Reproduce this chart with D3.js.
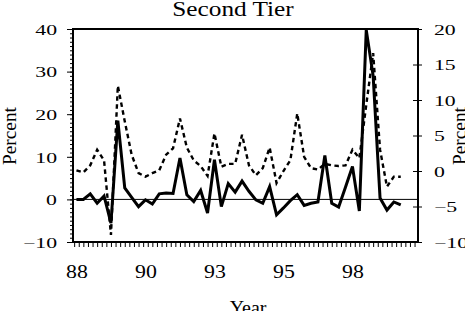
<!DOCTYPE html>
<html>
<head>
<meta charset="utf-8">
<script src="https://cdn.jsdelivr.net/npm/d3@7"></script>
<style>
  body { margin: 0; background: #fff; }
  svg text { font-family: "Liberation Serif", "Times New Roman", serif; fill: #000; }
</style>
</head>
<body>
<svg id="chart" width="465" height="311"></svg>
<script>
// quarterly observations, 1988Q1 onwards
const title = 'Second Tier';
const yearLabels = ['88', '90', '93', '95', '98'];
const yearLabelAt = [0, 10, 20, 30, 40];
const leftTicks = [40, 30, 20, 10, 0, -10];
const rightTicks = [20, 15, 10, 5, 0, -5, -10];

// solid line, left axis (Percent)
const solidSeries = [0, 0, 1.3, -0.9, 0.8, -5.6, 18.5, 2.7, 0.5, -1.7,
  -0.1, -1.1, 1.3, 1.5, 1.4, 9.7, 1.1, -0.5, 2.1, -3.2,
  9.3, -1.7, 3.7, 1.7, 4.3, 1.9, -0.1, -0.9, 3.0, -3.6,
  -2.0, -0.3, 1.1, -1.4, -0.9, -0.6, 10.3, -0.9, -1.8, 2.9,
  7.7, -2.7, 39.8, 29, 0.3, -2.5, -0.6, -1.3];

// dashed line, right axis (Percent)
const dashedSeries = [0.1, -0.2, 0.8, 3.0, 1.5, -9.0, 12.0, 7.0, 2.3, -0.3,
  -0.8, -0.3, 0.1, 2.3, 3.2, 7.4, 3.3, 1.5, 0.7, -0.7,
  5.3, 0.6, 1.0, 1.0, 5.1, 0.8, -0.6, 0.4, 3.3, -1.7,
  0.0, 1.5, 8.1, 2.0, 0.4, 0.2, 1.0, 0.8, 0.7, 0.8,
  3.0, 1.8, 9.3, 16.6, 3.0, -2.2, -0.8, -0.8];

const svg = d3.select('#chart');
const plot = {left: 73, right: 418, top: 29, bottom: 242};

const x = d3.scaleLinear().domain([-0.5, 49.5]).range([plot.left, plot.right]);
const yLeft = d3.scaleLinear().domain([-10, 40]).range([plot.bottom, plot.top]);
const yRight = d3.scaleLinear().domain([-10, 20]).range([plot.bottom, plot.top]);

const stretch = (dx, dy, sx) => `translate(${dx},${dy}) scale(${sx},1)`;

// zero reference line
svg.append('line')
  .attr('x1', plot.left).attr('x2', plot.right)
  .attr('y1', yLeft(0)).attr('y2', yLeft(0))
  .attr('stroke', '#000').attr('stroke-width', 1);

// left axis: minor ticks every unit, labels every 10
svg.append('g')
  .attr('transform', `translate(${plot.left},0)`)
  .call(d3.axisLeft(yLeft).tickValues(d3.range(-10, 41, 1)).tickSize(3).tickFormat(''))
  .call(g => g.select('.domain').remove());

svg.append('g')
  .attr('transform', `translate(${plot.left},0)`)
  .call(d3.axisLeft(yLeft).tickValues(leftTicks).tickSize(6))
  .call(g => g.select('.domain').remove())
  .call(g => g.selectAll('text')
    .attr('x', null).attr('dy', '0.35em')
    .attr('font-size', 15)
    .attr('transform', stretch(-16, 0, 1.45)));

// right axis: ticks cross the frame
svg.append('g')
  .attr('transform', `translate(${plot.right},0)`)
  .call(d3.axisRight(yRight).tickValues(rightTicks).tickSize(4))
  .call(g => g.select('.domain').remove())
  .call(g => g.selectAll('.tick line').attr('x1', -5))
  .call(g => g.selectAll('text')
    .attr('x', null).attr('dy', '0.35em')
    .attr('font-size', 15)
    .attr('transform', stretch(16, 0, 1.45)));

// bottom axis: small ticks every two months, year labels every 10 quarters
svg.append('g')
  .attr('transform', `translate(0,${plot.bottom})`)
  .call(d3.axisBottom(x).tickValues(d3.range(-1 / 3, 49.5, 2 / 3)).tickSize(5).tickFormat(''))
  .call(g => g.select('.domain').remove());

svg.append('g')
  .attr('transform', `translate(0,${plot.bottom})`)
  .call(d3.axisBottom(x).tickValues(yearLabelAt).tickSize(0).tickFormat((d, i) => yearLabels[i]))
  .call(g => g.select('.domain').remove())
  .call(g => g.selectAll('text')
    .attr('y', null).attr('dy', null)
    .attr('font-size', 19.5)
    .attr('transform', stretch(0, 36, 1.12)));

// series
const dashedLine = d3.line().x((d, i) => x(i)).y(d => yRight(d));
const solidLine = d3.line().x((d, i) => x(i)).y(d => yLeft(d));

svg.append('path')
  .datum(dashedSeries)
  .attr('d', dashedLine)
  .attr('fill', 'none')
  .attr('stroke', '#000')
  .attr('stroke-width', 2.4)
  .attr('stroke-dasharray', '4.5,3.5');

svg.append('path')
  .datum(solidSeries)
  .attr('d', solidLine)
  .attr('fill', 'none')
  .attr('stroke', '#000')
  .attr('stroke-width', 3)
  .attr('stroke-linejoin', 'miter');

// frame
svg.append('rect')
  .attr('x', plot.left).attr('y', plot.top)
  .attr('width', plot.right - plot.left).attr('height', plot.bottom - plot.top)
  .attr('fill', 'none').attr('stroke', '#000').attr('stroke-width', 2);

// titles
svg.append('text')
  .attr('text-anchor', 'middle').attr('font-size', 22)
  .attr('transform', stretch(233, 16, 1.15))
  .text(title);

svg.append('text')
  .attr('text-anchor', 'middle').attr('font-size', 19)
  .attr('transform', stretch(248, 314, 1.05))
  .text('Year');

svg.append('text')
  .attr('text-anchor', 'middle').attr('font-size', 19.3)
  .attr('transform', 'translate(16,136) rotate(-90)')
  .text('Percent');

svg.append('text')
  .attr('text-anchor', 'middle').attr('font-size', 19.3)
  .attr('transform', 'translate(466,136) rotate(-90)')
  .text('Percent');
</script>
</body>
</html>
